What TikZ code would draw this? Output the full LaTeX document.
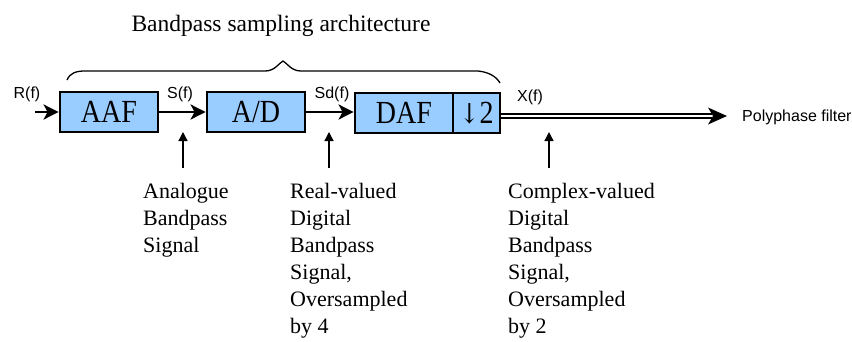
\documentclass[tikz,border=0pt]{standalone}
\usepackage{fontspec}
\setmainfont{Liberation Serif}
\newfontfamily\labfont{Liberation Sans}
\newfontfamily\arrfont{DejaVu Serif}
\usetikzlibrary{arrows.meta}
\definecolor{boxblue}{RGB}{153,204,255}
\tikzset{
  blk/.style={draw=black, line width=2.8pt, fill=boxblue, inner sep=0pt},
  blktext/.style={font=\fontsize{28}{30}\selectfont, inner sep=0pt},
  sig/.style={line width=2.8pt, -{Stealth[length=15pt,width=15pt,inset=4pt]}},
  lab/.style={font=\labfont\fontsize{16}{18}\selectfont, inner sep=0pt},
  pointer/.style={line width=1.3pt, -{Triangle[length=9pt,width=9pt]}},
  note/.style={font=\fontsize{22}{27}\selectfont, align=left, anchor=north west, inner sep=0pt},
}
\begin{document}
\begin{tikzpicture}[x=1pt,y=-1pt]
\useasboundingbox (0,0) rectangle (852,341);
% title
\node[font=\fontsize{23.5}{25}\selectfont, inner sep=0pt, anchor=base] (title) at (281,31) {Bandpass sampling architecture};
% brace
\draw[line width=1.3pt] (67,80) .. controls (70,73) and (76,71) .. (85,71) -- (265,71)
  .. controls (275,71) and (279,63) .. (283,61) .. controls (287,63) and (291,71) .. (301,71)
  -- (478,71) .. controls (488,72) and (496,76) .. (500,83);
% boxes
\node[blk, minimum width=98pt, minimum height=40pt] (aaf) at (109,112) {};
\node[blktext] (aaft) at (aaf) {\scalebox{1}[1.15]{AAF}};
\node[blk, minimum width=98pt, minimum height=40pt] (ad) at (256,112) {};
\node[blktext] (adt) at (ad) {\scalebox{1}[1.15]{A/D}};
\node[blk, minimum width=98pt, minimum height=40pt] (daf) at (404,113) {};
\node[blk, minimum width=47pt, minimum height=40pt] (dec) at (476.5,113) {};
\node[blktext] (daft) at (daf) {\scalebox{1}[1.15]{DAF}};
\node[blktext] (dect) at (dec) {\scalebox{1}[1.15]{{\arrfont\fontsize{24}{26}\selectfont ↓}2}};
% signal labels
\node[lab] (rf) at (27,94) {R(f)};
\node[lab] (sf) at (180,94) {S(f)};
\node[lab] (sdf) at (332,94) {Sd(f)};
\node[lab] (xf) at (530,97) {X(f)};
\node[lab, anchor=west] (poly) at (742,117) {Polyphase filter};
% signal arrows
\coordinate (in) at (35,112);
\draw[sig] (in) -- (aaf.west);
\draw[sig] (aaf.east) -- (ad.west);
\draw[sig] (ad.east) -- (ad.east -| daf.west);
% output double line
\coordinate (outend) at (712,116);
\coordinate (outtip) at (727,116);
\draw[line width=1.3pt, double, double distance=2.6pt] (dec.east |- outend) -- (outend);
\fill (outtip) -- (708,107.5) -- (713,116) -- (708,124.5) -- cycle;
% pointers
\coordinate (p1) at (183,168);
\coordinate (p2) at (329,168);
\coordinate (p3) at (549,168);
\coordinate (q1) at (183,132);
\coordinate (q2) at (329,132);
\coordinate (q3) at (549,132);
\draw[pointer] (p1) -- (q1);
\draw[pointer] (p2) -- (q2);
\draw[pointer] (p3) -- (q3);
% notes
\node[note] (n1) at (143,183) {Analogue\\Bandpass\\Signal};
\node[note] (n2) at (290,183) {Real-valued\\Digital\\Bandpass\\Signal,\\Oversampled\\by 4};
\node[note] (n3) at (508,183) {Complex-valued\\Digital\\Bandpass\\Signal,\\Oversampled\\by 2};
\end{tikzpicture}
\end{document}
